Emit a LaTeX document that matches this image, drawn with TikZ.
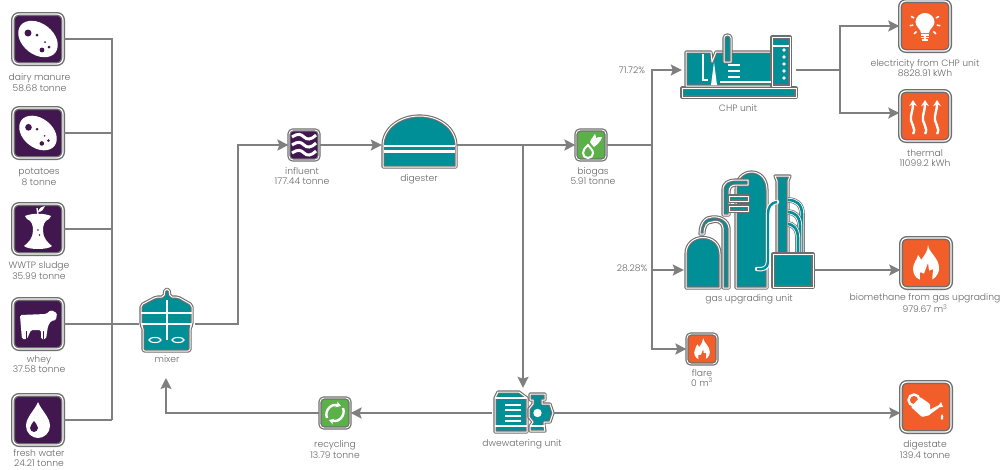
\documentclass[tikz,border=0pt]{standalone}
\usepackage{fontspec}
\setmainfont{Poppins}[UprightFont=* Light]
\usetikzlibrary{arrows.meta}
\definecolor{purp}{HTML}{42174F}
\definecolor{teal0}{HTML}{008F96}
\definecolor{oran}{HTML}{F25E2A}
\definecolor{gren}{HTML}{5CB04A}
\definecolor{pipec}{HTML}{7F7F7F}
\definecolor{rimc}{HTML}{6E6E6E}
\definecolor{txtc}{HTML}{666666}
\tikzset{
  bigbox/.style={draw=rimc, line width=1.4pt, double=white, double distance=1.2pt, fill=#1, rounded corners=6pt, minimum size=50pt, inner sep=0pt},
  smallbox/.style={draw=rimc, line width=1.2pt, double=white, double distance=.9pt, fill=#1, rounded corners=4pt, minimum size=30pt, inner sep=0pt},
  unitbox/.style={inner sep=0pt, minimum width=#1},
  unitfill/.style={fill=teal0, draw=rimc, line width=1.1pt, double=white, double distance=1pt, line join=round},
  gapline/.style={draw=white, line width=#1},
  pipe/.style={draw=pipec, line width=2pt},
  flow/.style={pipe, -{Stealth[length=11pt,width=11pt,inset=2pt]}},
  caption/.style={text=txtc, font=\fontsize{9.2}{10.6}\selectfont, align=center, inner sep=0pt},
  potatoicon/.pic={%
    \fill[white, rotate=-38] (0,0) ellipse (22 and 15.5);%
    \fill[purp] (-10,-6) circle (3.5) (-1,-4) circle (1.5) (7,3) circle (1) (11,8) circle (1.5) (4,11) circle (2.4);},
  appleicon/.pic={%
    \fill[white] (-13,-13) .. controls (-6,-16) and (6,-16) .. (13,-13) -- (11,-10) .. controls (6,-8) and (5,-4) .. (5,2) .. controls (5,9) and (10,14) .. (14,17) .. controls (10,21) and (-10,21) .. (-14,17) .. controls (-10,14) and (-5,9) .. (-5,2) .. controls (-5,-4) and (-6,-8) .. (-11,-10) -- cycle;%
    \draw[white, line width=1.4pt] (0,-14) -- (-1,-21);%
    \fill[white] (0,-17) .. controls (1,-21) and (4,-23) .. (7,-23) .. controls (6,-20) and (4,-17) .. (0,-17) -- cycle;%
    \fill[purp] (0,1) circle (.9) (1.5,6) circle (.9);},
  cowicon/.pic={%
    \fill[white, rounded corners=1.5pt] (-18,-9) -- (8,-10) -- (13,-14) -- (19,-11) -- (18,-4) -- (13,-3) -- (10,2) -- (8,15) -- (3,15) -- (3,6) -- (-7,6) -- (-11,15) -- (-16,15) -- (-17,4) -- cycle;%
    \draw[purp, line width=.9pt] (-12,15) -- (-12,7) (5,15) -- (5,7);},
  dropicon/.pic={%
    \fill[white] (0,-18) .. controls (3,-10) and (12,-3) .. (12,6) .. controls (12,13) and (6,18) .. (0,18) .. controls (-6,18) and (-12,13) .. (-12,6) .. controls (-12,-3) and (-3,-10) .. (0,-18) -- cycle;%
    \fill[purp] (-4,1) .. controls (-3,3) and (0,5) .. (0,8) .. controls (0,10) and (-2,12) .. (-4,12) .. controls (-6,12) and (-8,10) .. (-8,8) .. controls (-8,5) and (-5,3) .. (-4,1) -- cycle;},
  waveicon/.pic={%
    \foreach \wy in {-8,0,8} {\draw[white, line width=3pt] (-12,\wy) .. controls (-6,\wy-4) and (-3,\wy-3) .. (0,\wy) .. controls (3,\wy+3) and (7,\wy+3) .. (12,\wy-2);}},
  leaficon/.pic={%
    \draw[white, line width=2pt] (-3,0) .. controls (-6,3) and (-8,5) .. (-8,8) .. controls (-8,11) and (-6,13) .. (-3,13) .. controls (0,13) and (2,11) .. (2,8) .. controls (2,5) and (-1,3) .. (-3,0) -- cycle;%
    \fill[white] (-1,-3) .. controls (0,-7) and (3,-8) .. (4,-11) .. controls (5,-9) and (5,-8) .. (5,-7) .. controls (7,-8) and (9,-8) .. (11,-8) .. controls (10,-4) and (7,-1) .. (3,2) .. controls (2,1) and (0,-1) .. (-1,-3) -- cycle;},
  recycleicon/.pic={%
    \draw[white, line width=2.4pt, -{Stealth[length=5pt,width=6pt]}] (-8,5) .. controls (-11,-3) and (-3,-10) .. (6,-7);%
    \draw[white, line width=2.4pt, -{Stealth[length=5pt,width=6pt]}] (8,-5) .. controls (11,3) and (3,10) .. (-6,7);},
  bulbicon/.pic={%
    \fill[white] (-4,7) .. controls (-4,3) and (-9.5,1) .. (-9.5,-4) .. controls (-9.5,-9) and (-5,-13) .. (0,-13) .. controls (5,-13) and (9.5,-9) .. (9.5,-4) .. controls (9.5,1) and (4,3) .. (4,7) -- cycle;%
    \draw[white, line width=1.2pt] (-4,9) -- (4,9) (-4,11.5) -- (4,11.5) (-3,14) -- (3,14);%
    \foreach \ra in {-25,10,45,90,135,170,205} {\draw[white, line width=1.5pt, shift={(0,-3)}] (\ra:12) -- (\ra:15.5);}},
  heaticon/.pic={%
    \foreach \hx in {-12,0,12} {\draw[white, line width=2.4pt, -{Stealth[length=6pt,width=7.5pt]}] (\hx,18) .. controls (\hx+4,12) and (\hx-4,6) .. (\hx-2,0) .. controls (\hx-1,-5) and (\hx,-8) .. (\hx,-16);}},
  flameicon/.pic={%
    \fill[white] (2,-18) .. controls (3,-10) and (13,-5) .. (13,5) .. controls (13,13) and (7,18) .. (0,18) .. controls (-8,18) and (-13,13) .. (-13,6) .. controls (-13,0) and (-9,-3) .. (-8,-8) .. controls (-6,-6) and (-5,-4) .. (-5,-3) .. controls (-2,-7) and (2,-12) .. (2,-18) -- cycle;%
    \fill[oran, rounded corners=.8pt] (-6,18.5) -- (-6,9) -- (-2,11) -- (2,0) -- (3,8) -- (7,6) -- (6,18.5) -- cycle;},
  canicon/.pic={%
    \draw[white, line width=2.4pt] (-12,-7) circle (5.5);%
    \fill[white, rounded corners=1pt] (-15,0) -- (-6,-10) -- (4,-3) -- (4,8) -- (-4,10) -- cycle;%
    \fill[white] (3,3) -- (13,-2) -- (15,-5) -- (17,0) -- (14,0) -- (3,8) -- cycle;%
    \fill[white] (16,7) .. controls (17,9) and (18,10) .. (17,12) .. controls (16,13) and (15,13) .. (15,12) .. controls (14,10) and (15,9) .. (16,7) -- cycle;},
}
\begin{document}
\begin{tikzpicture}[x=1pt,y=-1pt]
  \useasboundingbox (0,0) rectangle (1003,469);%

  % icon boxes
  \foreach \nm/\x/\y/\cl in {dairy/38/39/purp, potatoes/38/133/purp, sludge/38/229/purp, whey/38/324/purp, water/38/420/purp, electricity/925/26/oran, thermal/925/116/oran, biomethane/926/263/oran, digestate/926/407/oran} {%
    \node[bigbox=\cl] (\nm) at (\x,\y) {}; }%
  \foreach \nm/\x/\y/\cl in {influent/304/145/purp, biogas/591/145/gren, flare/702/349/oran, recycling/335/413/gren} {%
    \node[smallbox=\cl] (\nm) at (\x,\y) {}; }%

  \pic at (dairy) {potatoicon};%
  \pic[scale=.95] at (potatoes) {potatoicon};%
  \pic at (sludge) {appleicon};%
  \pic at (whey) {cowicon};%
  \pic at (water) {dropicon};%
  \pic at (influent) {waveicon};%
  \pic at (biogas) {leaficon};%
  \pic at (recycling) {recycleicon};%
  \pic at (electricity) {bulbicon};%
  \pic at (thermal) {heaticon};%
  \pic at (biomethane) {flameicon};%
  \pic[scale=.6] at (flare) {flameicon};%
  \pic at (digestate) {canicon};%

  % process units, the nodes only carry the connectors
  \node[unitbox=56pt, minimum height=60pt] (mixer) at (167,324) {};%
  \node[unitbox=75pt, minimum height=46pt] (digester) at (419.5,145) {};%
  \node[unitbox=114pt, minimum height=54pt] (chp) at (739,70) {};%
  \node[unitbox=130pt, minimum height=36pt] (gasunit) at (749,270) {};%
  \node[unitbox=62pt, minimum height=50pt] (dewater) at (523,413) {};%

  % mixer
  \path[unitfill, rounded corners=2pt] (164,297) -- (165,289) -- (169,289) -- (170,297) -- (178,297) -- (192,305) -- (192,325) -- (190,327) -- (190,351) -- (143,351) -- (143,327) -- (141,325) -- (141,305) -- (156,297) -- cycle;%
  \draw[gapline=2.2pt] (141,313) -- (192,313) (141,324) -- (192,324) (167,300) -- (167,340);%
  \draw[white, line width=1.1pt] (155,340) ellipse (6 and 2.5) (178,340) ellipse (6 and 2.5);%

  % digester
  \path[unitfill] (383,146) .. controls (383,128) and (400,116) .. (419.5,116) .. controls (439,116) and (456,128) .. (456,146) -- (456,167) -- (383,167) -- cycle;%
  \draw[gapline=2pt] (384,146) -- (455,146);%
  \draw[gapline=3pt] (384,151.5) -- (455,151.5);%

  % CHP unit
  \path[unitfill] (682,88) -- (796,88) -- (796,97) -- (682,97) -- cycle;%
  \path[unitfill] (686,52) -- (711,52) -- (712,62) -- (716,52) -- (725,52) -- (777,52) .. controls (778,64) and (778,74) .. (777,86) -- (686,86) -- cycle;%
  \path[unitfill] (772,37) -- (790,37) -- (790,86) -- (772,86) -- cycle;%
  \path[unitfill] (724,62) -- (724,38) .. controls (724,34) and (731,34) .. (731,38) -- (731,62) -- cycle;%
  \draw[gapline=1.2pt] (703,54) -- (703,80) -- (708,80) (773,46) -- (789,46) (720,82) -- (771,82);%
  \fill[white] (711,85) -- (714,62) -- (717,85) -- cycle;%
  \foreach \ly in {65,71,77} {\draw[gapline=1.2pt] (728,\ly) -- (740,\ly);}%
  \foreach \ly in {50,57,64,71,78} {\fill[white] (784,\ly) circle (1.8);}%

  % gas upgrading unit
  \path[unitfill] (686,288) -- (686,254) .. controls (686,232) and (720,232) .. (720,254) -- (720,288) -- cycle;%
  \path[unitfill] (736,288) -- (736,190) .. controls (736,166) and (767,166) .. (767,190) -- (767,288) -- cycle;%
  \path[unitfill] (723,288) -- (723,228) .. controls (723,222) and (716,220) .. (712,222) .. controls (707,222) and (704,226) .. (704,234) -- (700,234) .. controls (700,222) and (706,217) .. (712,217) .. controls (720,216) and (728,220) .. (729,228) -- (729,288) -- cycle;%
  \path[unitfill] (723,215) -- (723,190) .. controls (723,183) and (728,180) .. (736,180) -- (748,180) -- (748,185) -- (736,185) .. controls (731,185) and (729,188) .. (729,192) -- (729,215) -- cycle;%
  \foreach \ly in {196,206} {\path[unitfill] (729,\ly) -- (748,\ly) -- (748,\ly+5) -- (729,\ly+5) -- cycle;}%
  \path[unitfill] (777,254) -- (777,181) -- (775,176) -- (790,176) -- (788,181) -- (788,254) -- cycle;%
  \foreach \ly/\lx in {200/802, 212/800, 224/798} {%
    \draw[rimc, line width=5.6pt] (788,\ly) .. controls (\lx-6,\ly) and (\lx,\ly+4) .. (\lx,\ly+14) -- (\lx,254);%
    \draw[white, line width=4.2pt] (788,\ly) .. controls (\lx-6,\ly) and (\lx,\ly+4) .. (\lx,\ly+14) -- (\lx,254);%
    \draw[teal0, line width=2.6pt] (788,\ly) .. controls (\lx-6,\ly) and (\lx,\ly+4) .. (\lx,\ly+14) -- (\lx,254);}%
  \path[unitfill] (773,254) -- (813,254) -- (813,287) -- (773,287) -- cycle;%
  \draw[white, line width=4.4pt, line cap=round] (777,202) .. controls (770,203) and (768,208) .. (768,214) -- (768,262) .. controls (768,268) and (763,270) .. (757,269);%
  \draw[teal0, line width=2.4pt] (777,202) .. controls (770,203) and (768,208) .. (768,214) -- (768,262) .. controls (768,268) and (763,270) .. (757,269);%

  % dewatering unit
  \path[unitfill] (495,398) -- (498,392) -- (519,392) -- (527,398) -- (527,432) -- (495,432) -- cycle;%
  \draw[gapline=1.3pt] (495,398) -- (527,398) (495,426) -- (527,426);%
  \foreach \ly in {405,410,416,421} {\draw[gapline=1.3pt] (505,\ly) -- (521,\ly);}%
  \path[unitfill] (530,394) -- (545,394) -- (545,400) -- (542,400) -- (542,404) -- (550,404) -- (553,413) -- (550,422) -- (544,422) -- (544,426) -- (545,431) -- (530,431) -- (530,426) -- (533,422) -- (529,417) -- (529,409) -- (533,404) -- (533,400) -- (530,400) -- cycle;%
  \draw[gapline=1.2pt] (530,426) -- (545,426);%
  \fill[white] (537.5,413) circle (4.2);%

  % connectors
  \coordinate (busend) at (112,420);%
  \coordinate (riser) at (238,145);%
  \coordinate (tap) at (523,145);%
  \coordinate (split) at (652,145);%
  \coordinate (chpsplit) at (840,70);%
  \coordinate (mixerin) at (166,378);%

  \draw[pipe] (dairy) -| (busend);%
  \draw[pipe] (water) -- (busend);%
  \foreach \nm in {potatoes, sludge} {\draw[pipe] (\nm) -- (\nm -| busend);}%
  \draw[pipe] (whey) -- (mixer);%
  \draw[flow] (mixer) -| (riser) -- (influent);%
  \draw[flow] (influent) -- (digester);%
  \draw[flow] (digester) -- (biogas);%
  \draw[flow] (tap) -- (dewater);%
  \draw[pipe] (biogas) -- (split);%
  \draw[flow] (split) |- (chp);%
  \draw[flow] (split) |- (gasunit);%
  \draw[flow] (split) |- (flare);%
  \draw[pipe] (chp) -- (chpsplit);%
  \draw[flow] (chpsplit) |- (electricity);%
  \draw[flow] (chpsplit) |- ([yshift=3pt]thermal.west);%
  \draw[flow] (gasunit) -- (gasunit -| biomethane.west);%
  \draw[flow] (dewater) -- (dewater -| digestate.west);%
  \draw[flow] (dewater) -- (recycling);%
  \draw[flow] (recycling) -| (mixerin);%

  % captions
  \node[caption] (lbldairy) at (39.5,82.5) {dairy manure\\58.68 tonne};%
  \node[caption] (lblpotatoes) at (39,177) {potatoes\\8 tonne};%
  \node[caption] (lblsludge) at (39,270.5) {WWTP sludge\\35.99 tonne};%
  \node[caption] (lblwhey) at (39,364) {whey\\37.58 tonne};%
  \node[caption] (lblwater) at (39,458) {fresh water\\24.21 tonne};%
  \node[caption] (lblmixer) at (167,359) {mixer};%
  \node[caption] (lblinfluent) at (302,176) {influent\\177.44 tonne};%
  \node[caption] (lbldigester) at (419,179) {digester};%
  \node[caption] (lblbiogas) at (593,176) {biogas\\5.91 tonne};%
  \node[caption] (lblchp) at (738,108) {CHP unit};%
  \node[caption] (lblgas) at (749,299) {gas upgrading unit};%
  \node[caption] (lblflare) at (702,378) {flare\\0 m\textsuperscript{3}};%
  \node[caption] (lblelec) at (925,68) {electricity from CHP unit\\8828.91 kWh};%
  \node[caption] (lblthermal) at (925,158) {thermal\\11099.2 kWh};%
  \node[caption] (lblbiometh) at (925,303.5) {biomethane from gas upgrading\\979.67 m\textsuperscript{3}};%
  \node[caption] (lbldigestate) at (925,449.5) {digestate\\139.4 tonne};%
  \node[caption] (lblrecycling) at (335,449.5) {recycling\\13.79 tonne};%
  \node[caption] (lbldewater) at (522,444) {dwewatering unit};%
  \node[caption] (lblshareone) at (632,70) {71.72\%};%
  \node[caption] (lblsharetwo) at (632,268) {28.28\%};%
\end{tikzpicture}
\end{document}
